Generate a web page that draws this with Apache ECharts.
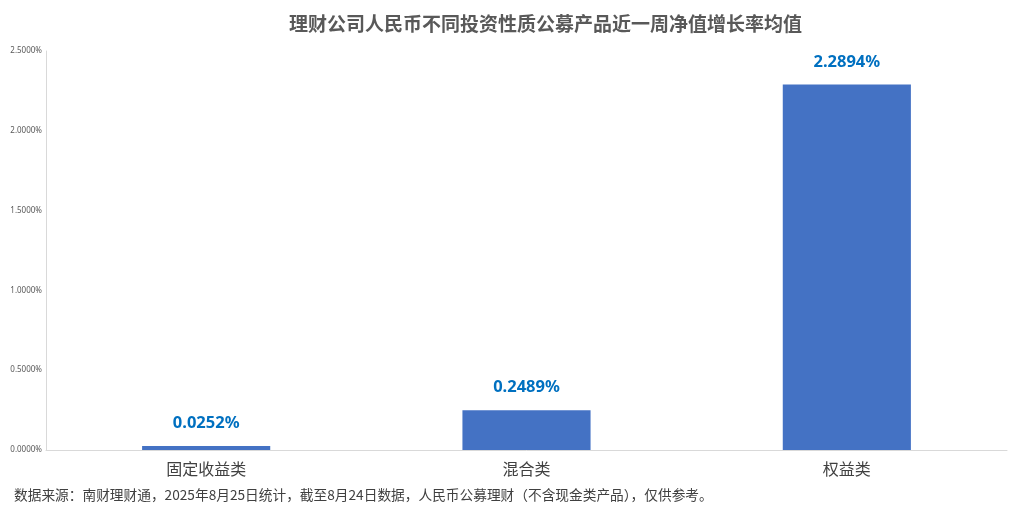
<!DOCTYPE html>
<html>
<head>
    <meta charset="utf-8">
    <title>理财公司人民币不同投资性质公募产品近一周净值增长率均值</title>
    <script src="https://cdn.jsdelivr.net/npm/echarts@6/dist/echarts.min.js"></script>
    <style>
        html, body { margin: 0; padding: 0; background: #fff; }
        #main { width: 1022px; height: 521px; }
    </style>
</head>
<body>
<div id="main"></div>
<script type="text/javascript">
    // 类别与数值（单位：%）
    var categories = ['固定收益类', '混合类', '权益类'];
    var values = [0.0252, 0.2489, 2.2894];
    var yTicks = [0, 0.5, 1, 1.5, 2, 2.5];

    var myChart = echarts.init(document.getElementById('main'));
    myChart.setOption({
        backgroundColor: '#fff',
        title: {
            text: '理财公司人民币不同投资性质公募产品近一周净值增长率均值',
            left: 284,
            top: 9,
            textStyle: {
                fontFamily: 'Noto Sans CJK SC',
                fontSize: 19,
                fontWeight: 'bold',
                color: '#595959'
            }
        },
        graphic: [{
            type: 'text',
            left: 14,
            top: 488,
            style: {
                text: '数据来源：南财理财通，2025年8月25日统计，截至8月24日数据，人民币公募理财（不含现金类产品），仅供参考。',
                font: '13.7px "Noto Sans CJK SC"',
                fill: '#404040'
            }
        }],
        grid: {
            left: 46,
            right: 15,
            top: 51,
            bottom: 71
        },
        xAxis: {
            type: 'category',
            data: categories,
            axisLine: { lineStyle: { color: '#d9d9d9' } },
            axisTick: { show: false },
            axisLabel: {
                margin: 11,
                fontFamily: 'Noto Sans CJK SC',
                fontSize: 16,
                color: '#404040'
            }
        },
        yAxis: {
            type: 'value',
            min: yTicks[0],
            max: yTicks[yTicks.length - 1],
            interval: 0.5,
            splitLine: { show: false },
            axisLine: { show: true, lineStyle: { color: '#d9d9d9' } },
            axisTick: { show: false },
            axisLabel: {
                margin: 4,
                fontFamily: 'Noto Sans',
                fontSize: 8,
                color: '#595959',
                formatter: function (v) { return v.toFixed(4) + '%'; }
            }
        },
        series: [{
            type: 'bar',
            data: values,
            barWidth: '40%',
            itemStyle: { color: '#4472C4' },
            label: {
                show: true,
                position: 'top',
                distance: 14,
                fontFamily: 'Noto Sans',
                fontSize: 16.5,
                fontWeight: 'bold',
                color: '#0070C0',
                formatter: function (p) { return p.value.toFixed(4) + '%'; }
            }
        }]
    });
</script>
</body>
</html>
